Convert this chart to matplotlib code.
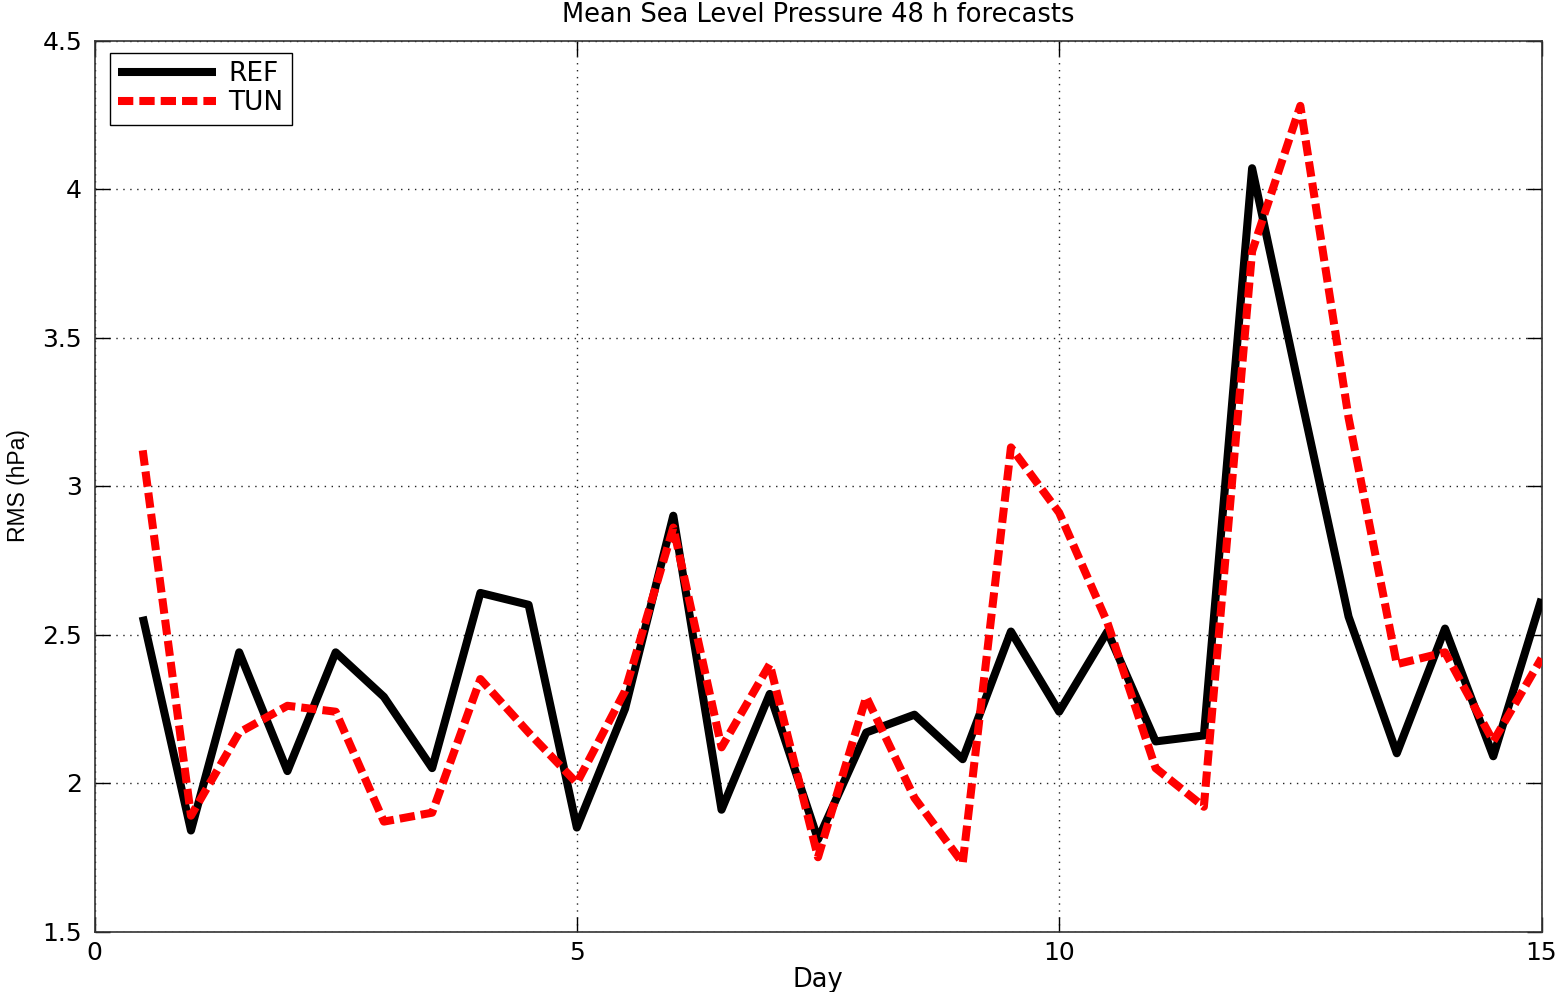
import matplotlib
matplotlib.use("Agg")
import matplotlib.pyplot as plt

# Forecast days (half-day steps)
days = [0.5, 1.0, 1.5, 2.0, 2.5, 3.0, 3.5, 4.0, 4.5, 5.0,
        5.5, 6.0, 6.5, 7.0, 7.5, 8.0, 8.5, 9.0, 9.5, 10.0,
        10.5, 11.0, 11.5, 12.0, 12.5, 13.0, 13.5, 14.0, 14.5, 15.0]

# RMS error of MSLP (hPa)
ref_rms = [2.56, 1.84, 2.44, 2.04, 2.44, 2.29, 2.05, 2.64, 2.60, 1.85,
           2.25, 2.90, 1.91, 2.30, 1.81, 2.17, 2.23, 2.08, 2.51, 2.24,
           2.51, 2.14, 2.16, 4.07, 3.31, 2.56, 2.10, 2.52, 2.09, 2.62]
tun_rms = [3.12, 1.89, 2.17, 2.26, 2.24, 1.87, 1.90, 2.35, 2.17, 2.00,
           2.31, 2.86, 2.12, 2.40, 1.75, 2.29, 1.95, 1.73, 3.13, 2.91,
           2.54, 2.05, 1.92, 3.79, 4.28, 3.23, 2.40, 2.44, 2.14, 2.42]

x_ticks = [0, 5, 10, 15]
y_ticks = [1.5, 2, 2.5, 3, 3.5, 4, 4.5]
y_tick_labels = ["1.5", "2", "2.5", "3", "3.5", "4", "4.5"]

plt.rcParams["font.family"] = ["DejaVu Sans"]

W, H = 1556, 992
fig = plt.figure(figsize=(W / 100, H / 100), dpi=100)
left, right, bottom, top = 94.5, 1541.5, 931.5, 40.5
ax = fig.add_axes([left / W, 1 - bottom / H, (right - left) / W, (bottom - top) / H])

ax.plot(days, ref_rms, color="black", lw=5.8, solid_joinstyle="round",
        solid_capstyle="butt", label="REF", zorder=3)
ax.plot(days, tun_rms, color="red", lw=5.8, dashes=(1.9, 0.75),
        dash_capstyle="butt", dash_joinstyle="round", label="TUN", zorder=4)

ax.set_xlim(0, 15)
ax.set_ylim(1.5, 4.5)
ax.set_xticks(x_ticks)
ax.set_yticks(y_ticks)
ax.set_yticklabels(y_tick_labels)

ax.grid(True, which="major", color="#222222", linestyle=(0, (1, 4)), linewidth=1.0)
ax.set_axisbelow(True)
ax.tick_params(direction="in", length=11, width=1, top=True, right=True,
               labelsize=18, pad=9, colors="black")
ax.tick_params(axis="x", pad=7)
for sp in ax.spines.values():
    sp.set_linewidth(1.2)
    sp.set_color("#333333")

ax.set_title("Mean Sea Level Pressure 48 h forecasts", fontsize=18.5, pad=13)
ax.set_xlabel("Day", fontsize=18.5, labelpad=1)
ax.set_ylabel("RMS (hPa)", fontsize=16.5, labelpad=9,
              fontfamily=["Liberation Sans", "DejaVu Sans"])

leg = ax.legend(loc="upper left", bbox_to_anchor=(0.0107, 0.9865), borderaxespad=0,
                fontsize=19, handlelength=3.7, handletextpad=0.45, fancybox=False,
                framealpha=1, edgecolor="black", borderpad=0.32, labelspacing=0.12)
leg.get_frame().set_linewidth(1.0)

fig.savefig("out.png", dpi=100)
